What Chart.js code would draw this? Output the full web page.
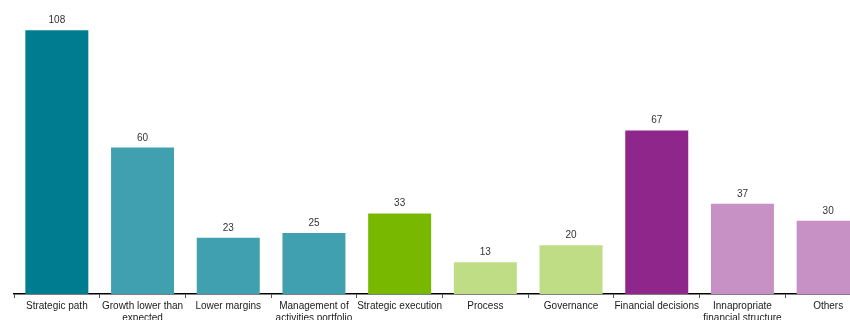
<!DOCTYPE html>
<html>
<head>
<meta charset="utf-8">
<script src="https://cdn.jsdelivr.net/npm/chart.js@4/dist/chart.umd.min.js"></script>
<style>
  html, body { margin: 0; padding: 0; background: #fff; overflow: hidden; }
  #wrap { width: 872px; height: 320px; position: relative; }
</style>
</head>
<body>
<div id="wrap"><canvas id="c"></canvas></div>
<script>
// Causes of value destruction, count per category
const categories = [
  'Strategic path',
  ['Growth lower than', 'expected'],
  'Lower margins',
  ['Management of', 'activities portfolio'],
  'Strategic execution',
  'Process',
  'Governance',
  'Financial decisions',
  ['Innapropriate', 'financial structure'],
  'Others'
];
const counts = [108, 60, 23, 25, 33, 13, 20, 67, 37, 30];
const barColors = [
  '#007C91', '#40A0B0', '#40A0B0', '#40A0B0',
  '#78B900', '#BEDD85', '#BEDD85',
  '#8E268C', '#C891C6', '#C891C6'
];

// Prints each bar's value just above it
const valueLabels = {
  id: 'valueLabels',
  afterDatasetsDraw(chart) {
    const ctx = chart.ctx;
    const meta = chart.getDatasetMeta(0);
    ctx.save();
    ctx.font = '10px "Liberation Sans", Arial, sans-serif';
    ctx.fillStyle = '#333';
    ctx.textAlign = 'center';
    ctx.textBaseline = 'alphabetic';
    meta.data.forEach((bar, i) => {
      ctx.fillText(String(chart.data.datasets[0].data[i]), bar.x, bar.y - 7);
    });
    ctx.restore();
  }
};

new Chart(document.getElementById('c'), {
  type: 'bar',
  data: {
    labels: categories,
    datasets: [{
      data: counts,
      backgroundColor: barColors,
      borderWidth: 0,
      categoryPercentage: 1,
      barPercentage: 0.735
    }]
  },
  options: {
    responsive: true,
    maintainAspectRatio: false,
    animation: false,
    layout: { padding: { left: 14, right: 1, top: 1, bottom: 0 } },
    plugins: { legend: { display: false }, tooltip: { enabled: false } },
    scales: {
      x: {
        offset: true,
        border: { display: true, color: '#000', width: 1.5 },
        grid: { display: true, drawOnChartArea: false, drawTicks: true, tickLength: 4, color: '#555', offset: true },
        ticks: {
          color: '#1a1a1a',
          font: { family: '"Liberation Sans", Arial, sans-serif', size: 10 },
          maxRotation: 0, minRotation: 0, autoSkip: false,
          padding: 2
        },
        afterFit(scale) { scale.height = 26; }
      },
      y: {
        display: false,
        min: 0,
        max: 120
      }
    }
  },
  plugins: [valueLabels]
});
</script>
</body>
</html>
